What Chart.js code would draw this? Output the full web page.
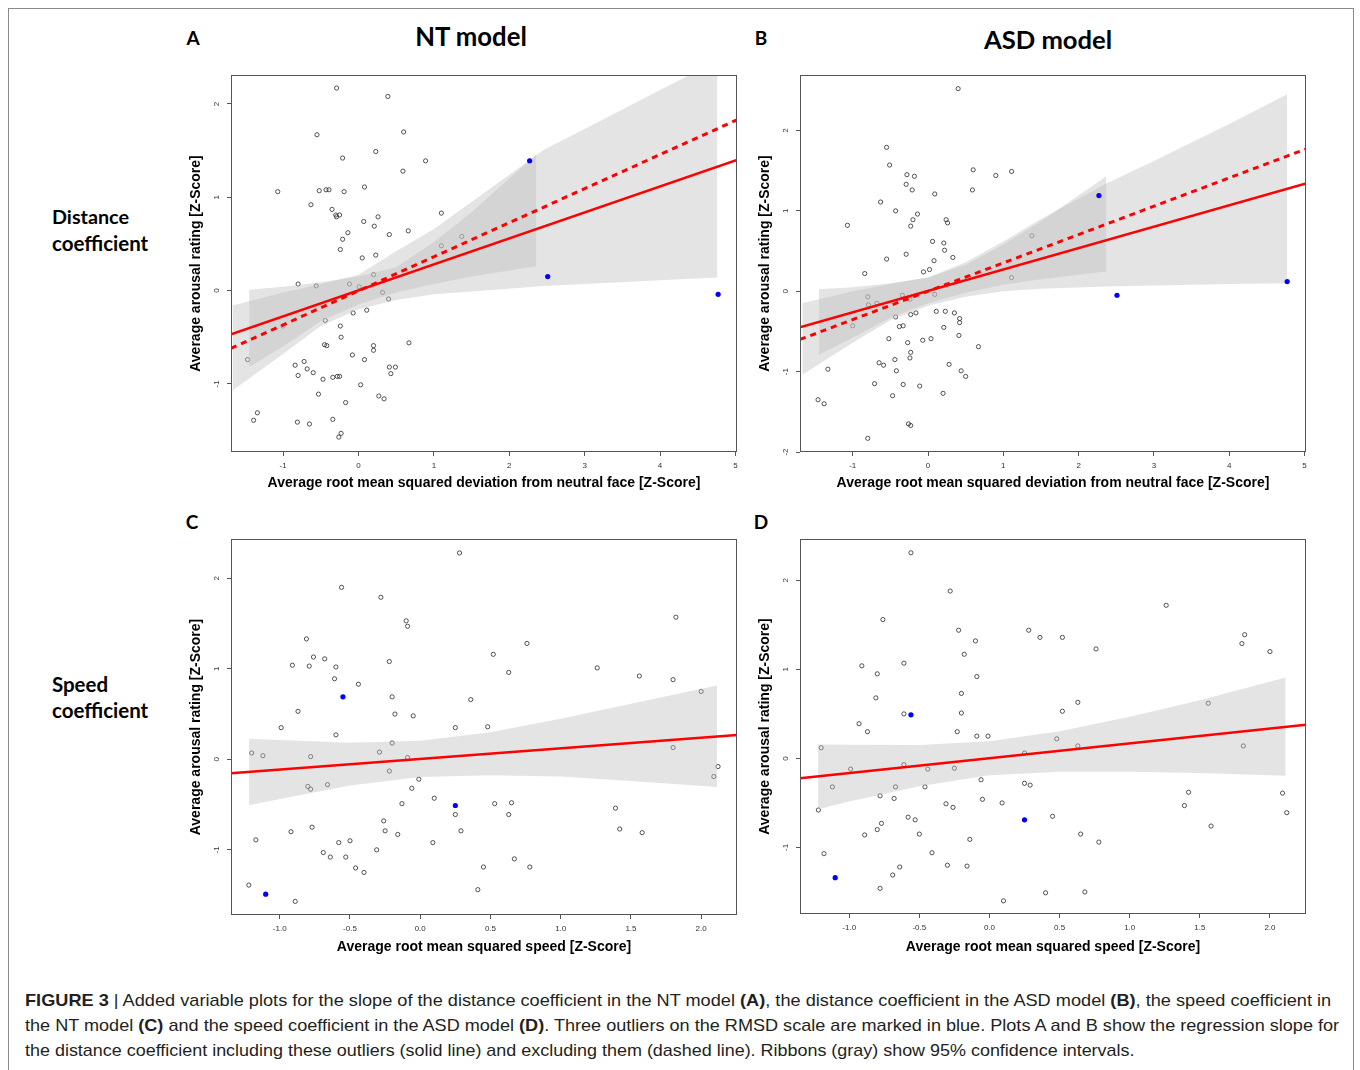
<!DOCTYPE html>
<html>
<head>
<meta charset="utf-8">
<script src="https://cdn.jsdelivr.net/npm/chart.js@4.4.0/dist/chart.umd.min.js"></script>
<style>
  body { margin: 0; background: #fff; width: 1360px; height: 1070px; position: relative; overflow: hidden; }
  .frame { position: absolute; left: 8px; top: 8px; width: 1346px; height: 1120px; border: 1.5px solid #8a8a8a; box-sizing: border-box; }
  .lbl { position: absolute; font-family: Lato, 'Open Sans', sans-serif; font-weight: bold; color: #000; white-space: nowrap; line-height: 1; }
  .mid { transform: translate(-50%, -50%); }
  .lft { transform: translateY(-50%); }
  canvas { position: absolute; }
  .cap { position: absolute; left: 25px; font-family: 'Liberation Sans', Arial, sans-serif; font-size: 17px; color: #231f20; white-space: nowrap; line-height: 1; transform-origin: 0 0; }
</style>
</head>
<body>
<div class="frame"></div>

<div class="lbl mid" style="left:193px;top:37px;font-size:19px">A</div>
<div class="lbl mid" data-w="112" style="left:471px;top:37px;font-size:25px">NT model</div>
<div class="lbl mid" style="left:761px;top:37px;font-size:19px">B</div>
<div class="lbl mid" data-w="128" style="left:1048px;top:40px;font-size:25px">ASD model</div>
<div class="lbl mid" style="left:192px;top:521px;font-size:19px">C</div>
<div class="lbl mid" style="left:761px;top:521px;font-size:19px">D</div>

<div class="lbl lft" data-w="77" style="left:52px;top:217px;font-size:19px">Distance</div>
<div class="lbl lft" data-w="96" style="left:52px;top:243px;font-size:19px">coefficient</div>
<div class="lbl lft" data-w="56" style="left:52px;top:684px;font-size:19px">Speed</div>
<div class="lbl lft" data-w="96" style="left:52px;top:710px;font-size:19px">coefficient</div>

<canvas id="cA" width="570" height="435" style="left:180px;top:65px"></canvas>
<canvas id="cB" width="570" height="435" style="left:749px;top:65px"></canvas>
<canvas id="cC" width="570" height="435" style="left:180px;top:529px"></canvas>
<canvas id="cD" width="570" height="435" style="left:749px;top:529px"></canvas>

<div class="cap" data-cw="1306" style="top:992px"><b>FIGURE 3</b> | Added variable plots for the slope of the distance coefficient in the NT model <b>(A)</b>, the distance coefficient in the ASD model <b>(B)</b>, the speed coefficient in</div>
<div class="cap" data-cw="1314" style="top:1017px">the NT model <b>(C)</b> and the speed coefficient in the ASD model <b>(D)</b>. Three outliers on the RMSD scale are marked in blue. Plots A and B show the regression slope for</div>
<div class="cap" data-cw="1109" style="top:1042px">the distance coefficient including these outliers (solid line) and excluding them (dashed line). Ribbons (gray) show 95% confidence intervals.</div>

<script>
// tick labels
var xTicksDist = [-1, 0, 1, 2, 3, 4, 5];
var xTicksSpeed = [-1, -0.5, 0, 0.5, 1, 1.5, 2];
var yTicksA = [-1, 0, 1, 2];
var yTicksB = [-2, -1, 0, 1, 2];
var yTicksC = [-1, 0, 1, 2];
var yTicksD = [-1, 0, 1, 2];

// A: NT model, distance coefficient
var pointsA = [
  [-0.29,2.17],[0.39,2.08],[-0.55,1.67],[0.60,1.70],[-0.21,1.42],[0.23,1.49],[0.89,1.39],[0.59,1.28],
  [-1.07,1.06],[-0.52,1.07],[-0.43,1.08],[-0.39,1.08],[-0.19,1.06],[0.08,1.11],[-0.63,0.92],[-0.35,0.87],
  [-0.30,0.81],[-0.25,0.81],[-0.29,0.79],[0.07,0.74],[0.26,0.79],[0.21,0.69],[1.10,0.83],[-0.14,0.62],
  [0.41,0.60],[0.66,0.64],[-0.21,0.55],[-0.24,0.44],[0.05,0.35],[0.23,0.38],[1.37,0.58],[1.10,0.48],
  [-0.80,0.07],[-0.56,0.05],[-0.12,0.07],[0.01,0.04],[0.20,0.17],[0.32,-0.02],[0.40,-0.09],[-1.47,-0.74],
  [-1.00,-0.38],[-0.44,-0.32],[-0.07,-0.24],[0.11,-0.21],[-0.24,-0.38],[-0.23,-0.50],[-0.45,-0.58],[-0.42,-0.59],
  [0.20,-0.59],[0.20,-0.64],[0.67,-0.56],[-0.08,-0.69],[0.08,-0.74],[-0.84,-0.80],[-0.72,-0.76],[-0.68,-0.84],
  [-0.80,-0.91],[-0.60,-0.88],[-0.47,-0.95],[-0.34,-0.93],[-0.28,-0.92],[-0.25,-0.92],[0.41,-0.82],[0.49,-0.82],
  [0.43,-0.89],[0.03,-1.01],[-0.53,-1.11],[0.27,-1.13],[0.34,-1.16],[-0.17,-1.20],[-1.34,-1.31],[-1.39,-1.39],
  [-0.81,-1.41],[-0.65,-1.43],[-0.34,-1.38],[-0.23,-1.53],[-0.26,-1.57]
];
var outliersA = [[2.27,1.39],[2.51,0.15],[4.77,-0.04]];
var solidA = [[-1.69,-0.47],[5.02,1.40]];
var dashedA = [[-1.69,-0.62],[5.02,1.83]];
var ribbonAllA_x = [-1.67,-1,-0.5,0,0.5,1,1.5,2.46,3,4,4.76];
var ribbonAllA_hi = [-0.16,-0.02,0.07,0.17,0.42,0.66,0.95,1.51,1.73,2.15,2.46];
var ribbonAllA_lo = [-1.07,-0.68,-0.38,-0.20,-0.10,-0.04,-0.01,0.05,0.07,0.11,0.14];
var ribbonExA_x = [-1.45,-1,-0.5,0,0.5,1,1.5,2.36];
var ribbonExA_hi = [0.01,0.04,0.09,0.15,0.25,0.52,0.84,1.46];
var ribbonExA_lo = [-0.82,-0.60,-0.33,-0.15,-0.02,0.07,0.15,0.26];

// B: ASD model, distance coefficient
var pointsB = [
  [0.40,2.52],[-0.55,1.79],[-0.51,1.57],[-0.28,1.45],[-0.18,1.43],[0.60,1.51],[0.90,1.44],[1.11,1.49],
  [-0.29,1.33],[-0.21,1.26],[0.59,1.26],[0.09,1.21],[-0.63,1.11],[-0.43,1.00],[-0.14,0.96],[-0.20,0.89],
  [-0.23,0.81],[0.24,0.89],[0.26,0.85],[-1.07,0.82],[0.06,0.62],[0.21,0.60],[0.22,0.51],[0.33,0.42],
  [-0.55,0.40],[-0.29,0.46],[0.08,0.38],[1.38,0.69],[-0.84,0.22],[-0.06,0.24],[0.02,0.27],[1.11,0.17],
  [-0.80,-0.07],[-0.79,-0.17],[-0.68,-0.15],[-0.34,-0.05],[-0.24,-0.10],[0.09,-0.04],[-1.00,-0.43],[-0.43,-0.32],
  [-0.23,-0.29],[-0.16,-0.27],[0.11,-0.25],[0.23,-0.25],[0.35,-0.27],[0.42,-0.34],[0.42,-0.39],[-0.38,-0.44],
  [-0.33,-0.43],[0.21,-0.45],[-0.52,-0.59],[-0.27,-0.64],[-0.07,-0.61],[0.04,-0.59],[0.41,-0.55],[0.67,-0.69],
  [-0.23,-0.76],[-0.24,-0.83],[-0.44,-0.85],[-0.65,-0.89],[-0.59,-0.92],[-0.42,-0.99],[-1.33,-0.97],[0.28,-0.91],
  [0.44,-0.99],[0.50,-1.06],[-0.71,-1.15],[-0.33,-1.16],[-0.11,-1.18],[-0.47,-1.30],[0.20,-1.27],[-1.46,-1.35],
  [-1.38,-1.40],[-0.26,-1.65],[-0.23,-1.67],[-0.80,-1.83]
];
var outliersB = [[2.27,1.19],[2.51,-0.05],[4.77,0.12]];
var solidB = [[-1.70,-0.45],[5.02,1.34]];
var dashedB = [[-1.70,-0.60],[5.02,1.77]];
var ribbonAllB_x = [-1.67,-1,-0.5,0,0.5,1,1.5,2.37,3,4,4.77];
var ribbonAllB_hi = [-0.15,0.0,0.09,0.17,0.36,0.62,0.90,1.34,1.62,2.08,2.45];
var ribbonAllB_lo = [-1.04,-0.64,-0.36,-0.18,-0.07,0.0,0.03,0.06,0.07,0.09,0.10];
var ribbonExB_x = [-1.45,-1,-0.5,0,0.5,1,1.5,2.37];
var ribbonExB_hi = [0.025,0.05,0.10,0.17,0.33,0.58,0.87,1.43];
var ribbonExB_lo = [-0.79,-0.58,-0.33,-0.15,-0.02,0.08,0.15,0.245];

// C: NT model, speed coefficient
var pointsC = [
  [0.28,2.28],[-0.56,1.90],[-0.28,1.79],[1.82,1.57],[-0.10,1.53],[-0.09,1.47],[-0.81,1.33],[0.76,1.28],
  [0.52,1.16],[-0.76,1.13],[-0.68,1.11],[-0.22,1.08],[-0.91,1.04],[-0.79,1.03],[-0.60,1.02],[1.26,1.01],
  [0.63,0.96],[1.56,0.92],[-0.61,0.89],[1.80,0.88],[-0.44,0.83],[2.00,0.75],[-0.20,0.69],[0.36,0.66],
  [-0.87,0.53],[-0.18,0.50],[-0.05,0.48],[-0.99,0.35],[0.48,0.36],[0.25,0.35],[-0.60,0.27],[-0.20,0.18],
  [-1.20,0.07],[-1.12,0.04],[-0.78,0.03],[-0.29,0.08],[-0.09,0.02],[1.80,0.13],[-0.22,-0.13],[2.12,-0.08],
  [2.09,-0.19],[-0.01,-0.22],[-0.80,-0.30],[-0.78,-0.33],[-0.66,-0.28],[-0.06,-0.32],[0.10,-0.43],[-0.13,-0.49],
  [0.53,-0.49],[0.65,-0.48],[1.39,-0.54],[0.25,-0.61],[0.63,-0.61],[-0.26,-0.68],[-0.77,-0.75],[1.42,-0.77],
  [-0.25,-0.79],[-0.92,-0.80],[0.29,-0.79],[1.58,-0.81],[-0.16,-0.83],[-1.17,-0.89],[-0.58,-0.92],[-0.50,-0.90],
  [0.09,-0.92],[-0.31,-1.00],[-0.69,-1.03],[-0.64,-1.08],[-0.53,-1.08],[0.67,-1.10],[0.45,-1.19],[0.78,-1.19],
  [-0.46,-1.20],[-0.40,-1.25],[-1.22,-1.39],[0.41,-1.44],[-0.89,-1.57]
];
var outliersC = [[-0.55,0.69],[0.25,-0.51],[-1.10,-1.49]];
var solidC = [[-1.347,-0.154],[2.255,0.268]];
var ribbonC_x = [-1.218,-1,-0.5,0,0.5,1,1.5,2.113];
var ribbonC_hi = [0.228,0.213,0.184,0.204,0.30,0.447,0.614,0.816];
var ribbonC_lo = [-0.507,-0.439,-0.29,-0.196,-0.175,-0.19,-0.24,-0.305];

// D: ASD model, speed coefficient
var pointsD = [
  [-0.56,2.31],[-0.28,1.88],[1.26,1.72],[-0.76,1.56],[-0.22,1.44],[0.28,1.44],[0.36,1.36],[0.52,1.36],
  [1.82,1.39],[1.80,1.29],[-0.10,1.32],[0.76,1.23],[2.00,1.20],[-0.18,1.17],[-0.61,1.07],[-0.91,1.04],
  [-0.09,0.92],[-0.80,0.95],[-0.81,0.68],[-0.20,0.73],[-0.20,0.51],[-0.61,0.50],[0.63,0.63],[1.56,0.62],
  [0.52,0.53],[-0.93,0.39],[-0.87,0.30],[-0.23,0.30],[-0.09,0.25],[-0.01,0.25],[0.48,0.22],[0.63,0.14],
  [1.81,0.14],[-1.20,0.12],[0.25,0.06],[-0.99,-0.12],[-0.61,-0.07],[-0.44,-0.12],[-0.25,-0.11],[-1.12,-0.32],
  [-0.67,-0.32],[-0.46,-0.32],[-0.78,-0.42],[-0.06,-0.24],[0.25,-0.28],[0.29,-0.30],[1.42,-0.38],[2.09,-0.39],
  [-0.68,-0.45],[-0.05,-0.46],[-0.31,-0.51],[-0.26,-0.55],[0.09,-0.50],[1.39,-0.53],[-1.22,-0.58],[2.12,-0.61],
  [0.45,-0.65],[-0.58,-0.66],[-0.53,-0.69],[-0.77,-0.73],[-0.80,-0.80],[1.58,-0.76],[-0.50,-0.85],[-0.89,-0.86],
  [0.65,-0.85],[-0.14,-0.91],[0.78,-0.94],[-1.18,-1.07],[-0.41,-1.06],[-0.30,-1.20],[-0.64,-1.22],[-0.16,-1.21],
  [-0.69,-1.31],[-0.78,-1.46],[0.40,-1.51],[0.68,-1.50],[0.10,-1.60]
];
var outliersD = [[-0.56,0.49],[0.25,-0.69],[-1.10,-1.34]];
var solidD = [[-1.351,-0.224],[2.257,0.379]];
var ribbonD_x = [-1.222,-1,-0.5,0,0.5,1,1.5,2.112];
var ribbonD_hi = [0.157,0.154,0.151,0.192,0.305,0.469,0.654,0.908];
var ribbonD_lo = [-0.57,-0.484,-0.314,-0.188,-0.15,-0.15,-0.165,-0.194];

var FONT = "'Liberation Sans', Arial, sans-serif";
var xTitleDist = 'Average root mean squared deviation from neutral face [Z-Score]';
var xTitleSpeed = 'Average root mean squared speed [Z-Score]';
var yTitle = 'Average arousal rating [Z-Score]';

function xy(list) {
  return list.map(function (p) { return {x: p[0], y: p[1]}; });
}
function zip(xs, ys) {
  return xs.map(function (x, i) { return {x: x, y: ys[i]}; });
}

var boxPlugin = {
  id: 'box',
  afterDraw: function (chart) {
    var a = chart.chartArea, ctx = chart.ctx;
    ctx.save();
    ctx.strokeStyle = '#555';
    ctx.lineWidth = 1;
    ctx.strokeRect(Math.round(a.left) + 0.5, Math.round(a.top) + 0.5,
      Math.round(a.right - a.left) - 1, Math.round(a.bottom - a.top) - 1);
    ctx.restore();
  }
};

function makePanel(id, p) {
  var datasets = [];
  // regression lines on top
  datasets.push({data: xy(p.solid), showLine: true, borderColor: '#ff0000', borderWidth: 2.5,
    pointRadius: 0, fill: false, order: 0});
  if (p.dashed) {
    datasets.push({data: xy(p.dashed), showLine: true, borderColor: '#ff0000', borderWidth: 3,
      borderDash: [6, 5], pointRadius: 0, fill: false, order: 0});
  }
  // confidence ribbons
  p.ribbons.forEach(function (r) {
    datasets.push({data: zip(r.x, r.hi), showLine: true, borderColor: 'rgba(0,0,0,0)', borderWidth: 0,
      pointRadius: 0, fill: '+1', backgroundColor: 'rgba(190,190,190,0.42)', order: 1});
    datasets.push({data: zip(r.x, r.lo), showLine: true, borderColor: 'rgba(0,0,0,0)', borderWidth: 0,
      pointRadius: 0, fill: false, order: 1});
  });
  // outliers in blue
  datasets.push({data: xy(p.outliers), pointRadius: 2.6, pointBackgroundColor: '#0000ff',
    pointBorderColor: '#0000ff', pointBorderWidth: 0, order: -1});
  // participants
  datasets.push({data: xy(p.points), pointRadius: 2.1, pointBackgroundColor: 'rgba(0,0,0,0)',
    pointBorderColor: '#2a2a2a', pointBorderWidth: 0.8, order: 2});

  new Chart(document.getElementById(id), {
    type: 'scatter',
    data: {datasets: datasets},
    plugins: [boxPlugin],
    options: {
      responsive: false,
      animation: false,
      events: [],
      layout: {padding: {left: 0, top: 10, right: 13, bottom: 0}, autoPadding: false},
      plugins: {legend: {display: false}, tooltip: {enabled: false}},
      scales: {
        x: {
          type: 'linear', min: p.xMin, max: p.xMax,
          afterBuildTicks: function (s) { s.ticks = p.xTicks.map(function (v) { return {value: v}; }); },
          afterFit: function (s) { s.height = p.xAxisH; s.paddingLeft = 0; s.paddingRight = 0; },
          grid: {drawOnChartArea: false, color: '#555', tickLength: 4},
          border: {display: false},
          ticks: {font: {size: 8, family: FONT}, color: '#333', padding: 5, maxRotation: 0, autoSkip: false,
            callback: function (v) { return p.xDec ? Number(v).toFixed(1) : String(v); }},
          title: {display: true, text: p.xTitle, color: '#000',
            font: {size: 14, weight: 'bold', family: FONT}, padding: {top: 0, bottom: 8}}
        },
        y: {
          type: 'linear', min: p.yMin, max: p.yMax,
          afterBuildTicks: function (s) { s.ticks = p.yTicks.map(function (v) { return {value: v}; }); },
          afterFit: function (s) { s.width = 51; s.paddingTop = 0; s.paddingBottom = 0; },
          grid: {drawOnChartArea: false, color: '#555', tickLength: 4},
          border: {display: false},
          ticks: {font: {size: 8, family: FONT}, color: '#333', padding: 7, minRotation: 90, maxRotation: 90,
            crossAlign: 'center', autoSkip: false,
            callback: function (v) { return String(v); }},
          title: {display: true, text: yTitle, color: '#000',
            font: {size: 14, weight: 'bold', family: FONT}, padding: {top: 8, bottom: 0}}
        }
      }
    }
  });
}

makePanel('cA', {
  points: pointsA, outliers: outliersA, solid: solidA, dashed: dashedA,
  ribbons: [{x: ribbonAllA_x, hi: ribbonAllA_hi, lo: ribbonAllA_lo}, {x: ribbonExA_x, hi: ribbonExA_hi, lo: ribbonExA_lo}],
  xMin: -1.69, xMax: 5.02, yMin: -1.73, yMax: 2.31, xTicks: xTicksDist, yTicks: yTicksA,
  xDec: false, xTitle: xTitleDist, xAxisH: 48
});
makePanel('cB', {
  points: pointsB, outliers: outliersB, solid: solidB, dashed: dashedB,
  ribbons: [{x: ribbonAllB_x, hi: ribbonAllB_hi, lo: ribbonAllB_lo}, {x: ribbonExB_x, hi: ribbonExB_hi, lo: ribbonExB_lo}],
  xMin: -1.70, xMax: 5.02, yMin: -2.0, yMax: 2.69, xTicks: xTicksDist, yTicks: yTicksB,
  xDec: false, xTitle: xTitleDist, xAxisH: 48
});
makePanel('cC', {
  points: pointsC, outliers: outliersC, solid: solidC, dashed: null,
  ribbons: [{x: ribbonC_x, hi: ribbonC_hi, lo: ribbonC_lo}],
  xMin: -1.347, xMax: 2.255, yMin: -1.72, yMax: 2.434, xTicks: xTicksSpeed, yTicks: yTicksC,
  xDec: true, xTitle: xTitleSpeed, xAxisH: 49
});
makePanel('cD', {
  points: pointsD, outliers: outliersD, solid: solidD, dashed: null,
  ribbons: [{x: ribbonD_x, hi: ribbonD_hi, lo: ribbonD_lo}],
  xMin: -1.351, xMax: 2.257, yMin: -1.748, yMax: 2.465, xTicks: xTicksSpeed, yTicks: yTicksD,
  xDec: true, xTitle: xTitleSpeed, xAxisH: 50
});

// fit the text labels to the widths measured on the figure
document.querySelectorAll('[data-w]').forEach(function (el) {
  var target = parseFloat(el.getAttribute('data-w'));
  var size = parseFloat(el.style.fontSize);
  el.style.fontSize = (size * target / el.offsetWidth).toFixed(2) + 'px';
});
document.querySelectorAll('[data-cw]').forEach(function (el) {
  var target = parseFloat(el.getAttribute('data-cw'));
  el.style.transform = 'scaleX(' + (target / el.offsetWidth).toFixed(4) + ')';
});
</script>
</body>
</html>
